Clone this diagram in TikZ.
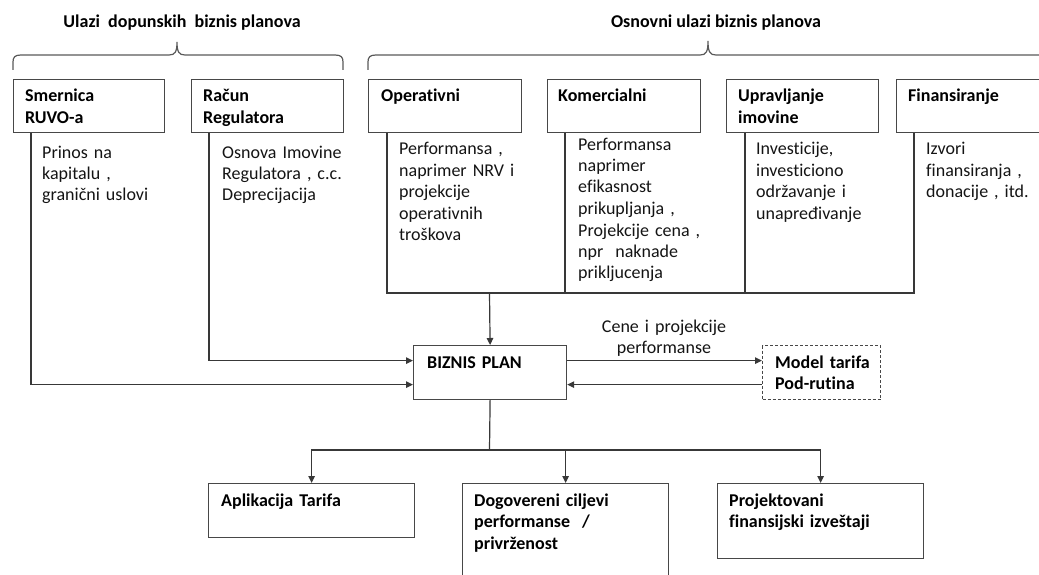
\documentclass[tikz,border=0pt]{standalone}
\usepackage{fontspec}
\setmainfont{Carlito}[Ligatures={NoCommon}]
\usetikzlibrary{arrows.meta}
\begin{document}
\begin{tikzpicture}[x=1pt,y=-1pt,
  ln/.style={draw=black!78, line width=1.2pt},
  arr/.style={ln, -{Triangle[length=7pt,width=6.5pt]}},
  brc/.style={draw=black!65, line width=1.2pt},
  box/.style={draw=black!72, line width=1.2pt, rectangle, inner sep=0pt, anchor=north west},
  dbox/.style={box, dash pattern=on 3pt off 2pt},
  hd/.style={anchor=base west, inner sep=0pt, text width=170pt, align=left, font=\bfseries\fontsize{18}{21.5}\selectfont, text=black},
  tx/.style={anchor=base west, inner sep=0pt, text width=170pt, align=left, font=\fontsize{18}{21.5}\selectfont, text=black!92},
  ttl/.style={anchor=base, inner sep=0pt, font=\bfseries\fontsize{18}{21.5}\selectfont, text=black}
]
\useasboundingbox (0,0) rectangle (1039,575);
\clip (0,0) rectangle (1039,575);

% titles
\node[ttl] (t1) at (182,28) {Ulazi\ \ dopunskih\ \ biznis planova};
\node[ttl] (t2) at (716,28) {Osnovni ulazi biznis planova};

% braces
\draw[brc] (13,70) -- (13,62) .. controls (13,57) and (15,55) .. (21,55) -- (169,55)
  .. controls (175,55) and (177,52) .. (177,42)
  .. controls (177,52) and (179,55) .. (185,55) -- (335,55)
  .. controls (341,55) and (343,57) .. (343,62) -- (343,70);
\draw[brc] (368,70) -- (368,62) .. controls (368,57) and (370,55) .. (376,55) -- (700,55)
  .. controls (706,55) and (708,52) .. (708,41)
  .. controls (708,52) and (710,55) .. (716,55) -- (1050,55);

% top boxes
\node[box, minimum width=151pt, minimum height=53pt] (smer) at (13,79) {};
\node[box, minimum width=152pt, minimum height=53pt] (racun) at (191,79) {};
\node[box, minimum width=153pt, minimum height=53pt] (oper) at (368,79) {};
\node[box, minimum width=153pt, minimum height=53pt] (kom) at (547,79) {};
\node[box, minimum width=152pt, minimum height=53pt] (uprav) at (726,79) {};
\node[box, minimum width=164pt, minimum height=53pt] (fin) at (896,79) {};

\node[hd] (smerL) at (25,102) {Smernica\\RUVO-a};
\node[hd] (racunL) at (203,102) {Račun\\Regulatora};
\node[hd] (operL) at (381,102) {Operativni};
\node[hd] (komL) at (558,102) {Komercialni};
\node[hd] (upravL) at (738,102) {Upravljanje\\imovine};
\node[hd] (finL) at (908,102) {Finansiranje};

% texts under boxes
\node[tx] (smerT) at (42,158) {Prinos na\\kapitalu ,\\granični uslovi};
\node[tx] (racunT) at (222,158) {Osnova Imovine\\Regulatora , c.c.\\Deprecijacija};
\node[tx] (operT) at (399,155) {Performansa ,\\naprimer NRV i\\projekcije\\operativnih\\troškova};
\node[tx] (komT) at (578,150) {Performansa\\naprimer\\efikasnost\\prikupljanja ,\\Projekcije cena ,\\npr\ \ naknade\\prikljucenja};
\node[tx] (upravT) at (756,155) {Investicije,\\investiciono\\održavanje i\\unapređivanje};
\node[tx] (finT) at (926,155) {Izvori\\finansiranja ,\\donacije , itd.};

% business plan and model
\node[box, minimum width=153pt, minimum height=54pt] (biz) at (413,345) {};
\node[hd] (bizL) at (427,368) {BIZNIS PLAN};
\node[dbox, minimum width=118pt, minimum height=54pt] (mod) at (762,345) {};
\node[hd] (modL) at (775,368) {Model tarifa\\Pod-rutina};

% collection line of main inputs
\coordinate (bl) at (387,293);
\coordinate (br) at (914,293);
\coordinate (jn) at (489.5,293);
\draw[ln] ([xshift=19pt]oper.south west) -- (bl) -- (br) -- ([xshift=18pt]fin.south west);
\draw[ln] ([xshift=18pt]kom.south west) -- ++(0,161);
\draw[ln] ([xshift=19pt]uprav.south west) -- ++(0,161);
\draw[arr] (jn) -- (biz.north);

% supplementary inputs
\draw[arr] ([xshift=18pt]smer.south west) |- ([yshift=-12pt]biz.west);
\draw[arr] ([xshift=18pt]racun.south west) |- ([yshift=12pt]biz.west);

% model link
\draw[arr] ([yshift=12pt]biz.east) -- ([yshift=12pt]mod.west);
\draw[arr] ([yshift=-12pt]mod.west) -- ([yshift=-12pt]biz.east);
\node[anchor=base, inner sep=0pt, text width=160pt, align=center, font=\fontsize{18}{21}\selectfont, text=black!92] (cene) at (664,332) {Cene i projekcije\\performanse};

% outputs
\node[box, minimum width=206pt, minimum height=54pt] (apl) at (208,483) {};
\node[box, minimum width=206pt, minimum height=110pt] (dog) at (462,483) {};
\node[box, minimum width=206pt, minimum height=75pt] (proj) at (717,483) {};
\node[hd] (aplL) at (221,506) {Aplikacija Tarifa};
\node[hd] (dogL) at (474,506) {Dogovereni ciljevi\\performanse\ \ /\\privrženost};
\node[hd] (projL) at (729,506) {Projektovani\\finansijski izveštaji};

\coordinate (bj) at (489.5,450);
\draw[ln] (biz.south) -- (bj);
\draw[arr] (bj) -| (apl.north);
\draw[arr] (bj) -| (dog.north);
\draw[arr] (bj) -| (proj.north);
\end{tikzpicture}
\end{document}
